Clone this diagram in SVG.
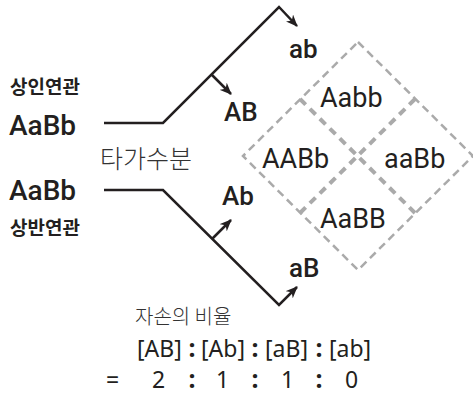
<svg xmlns="http://www.w3.org/2000/svg" width="473" height="398" viewBox="0 0 473 398">
<defs>
<marker id="ah" viewBox="0 0 12 10" refX="11" refY="5" markerWidth="12" markerHeight="10" markerUnits="userSpaceOnUse" orient="auto">
<path d="M0,0 L12,5 L0,10 L3.5,5 z" fill="#231f20"/>
</marker>
<style>
.lbl{font-family:Roboto,"Noto Sans",sans-serif;fill:#231f20}
.g{font-weight:500;font-size:26px}
.o{font-weight:400;font-size:27px}
.big{font-weight:500;font-size:28px}
.kb{font-family:"Noto Sans CJK KR",sans-serif;font-weight:700;font-size:19px;fill:#231f20}
.kl{font-family:"Noto Sans CJK KR",sans-serif;font-weight:300;fill:#333}
.r{font-family:"Noto Sans",sans-serif;font-size:23px;fill:#231f20}
.col{font-family:"Noto Sans",sans-serif;font-weight:700;font-size:25px;fill:#231f20;text-anchor:middle}
.ln{fill:none;stroke:#231f20;stroke-width:2.5}
.d1{fill:none;stroke:#aaa;stroke-width:2.5;stroke-dasharray:8 5}
.d2{fill:none;stroke:#aaa;stroke-width:4;stroke-dasharray:8 6}
</style>
</defs>
<g id="connectors">
<path class="ln" d="M104,123 H163 L279,7 L297,26" marker-end="url(#ah)"/>
<path class="ln" d="M212,75 L231,94" marker-end="url(#ah)"/>
<path class="ln" d="M104,190 H163 L279,305 L297,287" marker-end="url(#ah)"/>
<path class="ln" d="M212,239 L231,220" marker-end="url(#ah)"/>
</g>
<g id="punnett">
<path class="d1" d="M358,42 L473,156 L358,270 L243,156 Z"/>
<path class="d2" d="M300,99 L415,213 M415,99 L300,213"/>
</g>
<g id="parent1">
<text class="kb" x="10" y="94">상인연관</text>
<text class="lbl big" x="9" y="135">AaBb</text>
</g>
<g id="parent2">
<text class="lbl big" x="9" y="200">AaBb</text>
<text class="kb" x="10" y="235">상반연관</text>
</g>
<g id="cross">
<text class="kl" x="100" y="168" font-size="25">타가수분</text>
</g>
<g id="gametes">
<text class="lbl g" x="289" y="58">ab</text>
<text class="lbl g" x="224" y="121">AB</text>
<text class="lbl g" x="222" y="205">Ab</text>
<text class="lbl g" x="289" y="277">aB</text>
</g>
<g id="offspring">
<text class="lbl o" x="320" y="107">Aabb</text>
<text class="lbl o" x="262" y="168">AABb</text>
<text class="lbl o" x="384" y="168">aaBb</text>
<text class="lbl o" x="320" y="228">AaBB</text>
</g>
<g id="ratio">
<text class="kl" x="135" y="324" font-size="20">자손의 비율</text>
<text class="r" x="137" y="357">[AB]</text>
<text class="r" x="201" y="357">[Ab]</text>
<text class="r" x="265" y="357">[aB]</text>
<text class="r" x="329" y="357">[ab]</text>
<text class="col" x="192" y="357">:</text>
<text class="col" x="255" y="357">:</text>
<text class="col" x="319" y="357">:</text>
<text class="r" x="106" y="388">=</text>
<text class="r" x="152" y="388">2</text>
<text class="r" x="216" y="388">1</text>
<text class="r" x="281" y="388">1</text>
<text class="r" x="345" y="388">0</text>
<text class="col" x="192" y="388">:</text>
<text class="col" x="255" y="388">:</text>
<text class="col" x="319" y="388">:</text>
</g>
</svg>
